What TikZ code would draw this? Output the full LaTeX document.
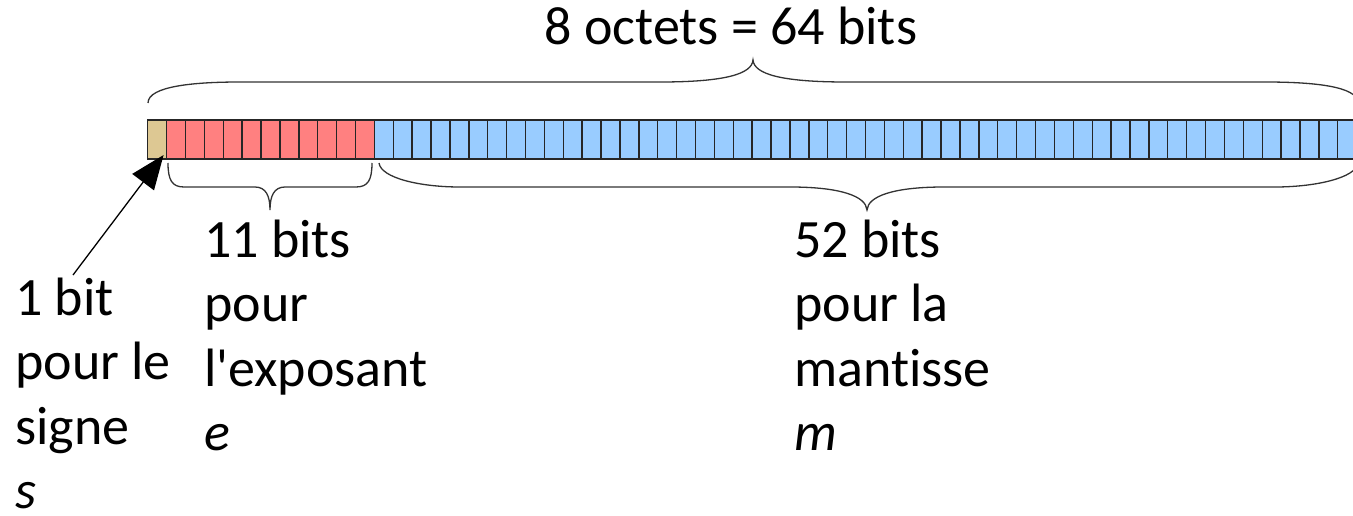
\documentclass[tikz,border=0pt]{standalone}
\usepackage{fontspec}
\setmainfont{Carlito}[Ligatures={TeXOff,NoCommon}]
\usetikzlibrary{arrows.meta}
\definecolor{signc}{HTML}{DDC893}
\definecolor{expc}{HTML}{FF8080}
\definecolor{mantc}{HTML}{99CCFF}
\tikzset{
  cell/.style={draw=black!85, line width=1.4pt, minimum width=18.89pt, minimum height=39pt, inner sep=0pt, outer sep=0pt},
  brace/.style={draw=black!80, line width=1.3pt},
  lbl/.style={anchor=base west, inner sep=0pt, align=left, font=\fontsize{54}{64.5}\selectfont},
  arr/.style={line width=1.3pt, -{Triangle[length=34pt,width=27pt]}}
}
\begin{document}
\begin{tikzpicture}[x=1pt,y=-1pt]
\clip (0,0) rectangle (1353,516);
\useasboundingbox (0,0) rectangle (1353,516);
% bits
\foreach \i in {1,...,64}{
  \pgfmathsetmacro{\cx}{147.7+(\i-0.5)*18.89}
  \ifnum\i=1 \def\fc{signc}\else\ifnum\i<13 \def\fc{expc}\else\def\fc{mantc}\fi\fi
  \node[cell, fill=\fc] (c\i) at (\cx,139.5) {};
}
% top brace
\draw[brace] (148,103) .. controls (148,86) and (195,82) .. (240,82) -- (660,82)
  .. controls (725,82) and (752,74) .. (753,60)
  .. controls (754,74) and (781,82) .. (846,82) -- (1265,82)
  .. controls (1312,82) and (1358,86) .. (1358,103);
% exponent brace
\draw[brace] (168,163) .. controls (168,180) and (172,187) .. (184,187) -- (255,187)
  .. controls (266,187) and (270,196) .. (270,210)
  .. controls (270,196) and (274,187) .. (285,187) -- (356,187)
  .. controls (368,187) and (372,180) .. (372,163);
% mantissa brace
\draw[brace] (379,163) .. controls (381,178) and (420,187) .. (460,187) -- (790,187)
  .. controls (840,187) and (866,196) .. (867,210)
  .. controls (868,196) and (894,187) .. (944,187) -- (1275,187)
  .. controls (1315,187) and (1356,178) .. (1358,163);
% texts
\node[anchor=base, inner sep=0pt, font=\fontsize{54}{64.5}\selectfont] (tot) at (731,45) {8 octets = 64 bits};
\node[lbl] (sgn) at (15,508.5) {1 bit\\pour le\\signe\\\textit{s}};
\node[lbl] (exp) at (204,450.5) {11 bits\\pour\\l'exposant\\\textit{e}};
\node[lbl] (man) at (794,450.5) {52 bits\\pour la\\mantisse\\\textit{m}};
% arrow
\coordinate (astart) at (73,275);
\draw[arr] (astart) -- ([xshift=-3pt,yshift=4pt]c1.south east);
\end{tikzpicture}
\end{document}
